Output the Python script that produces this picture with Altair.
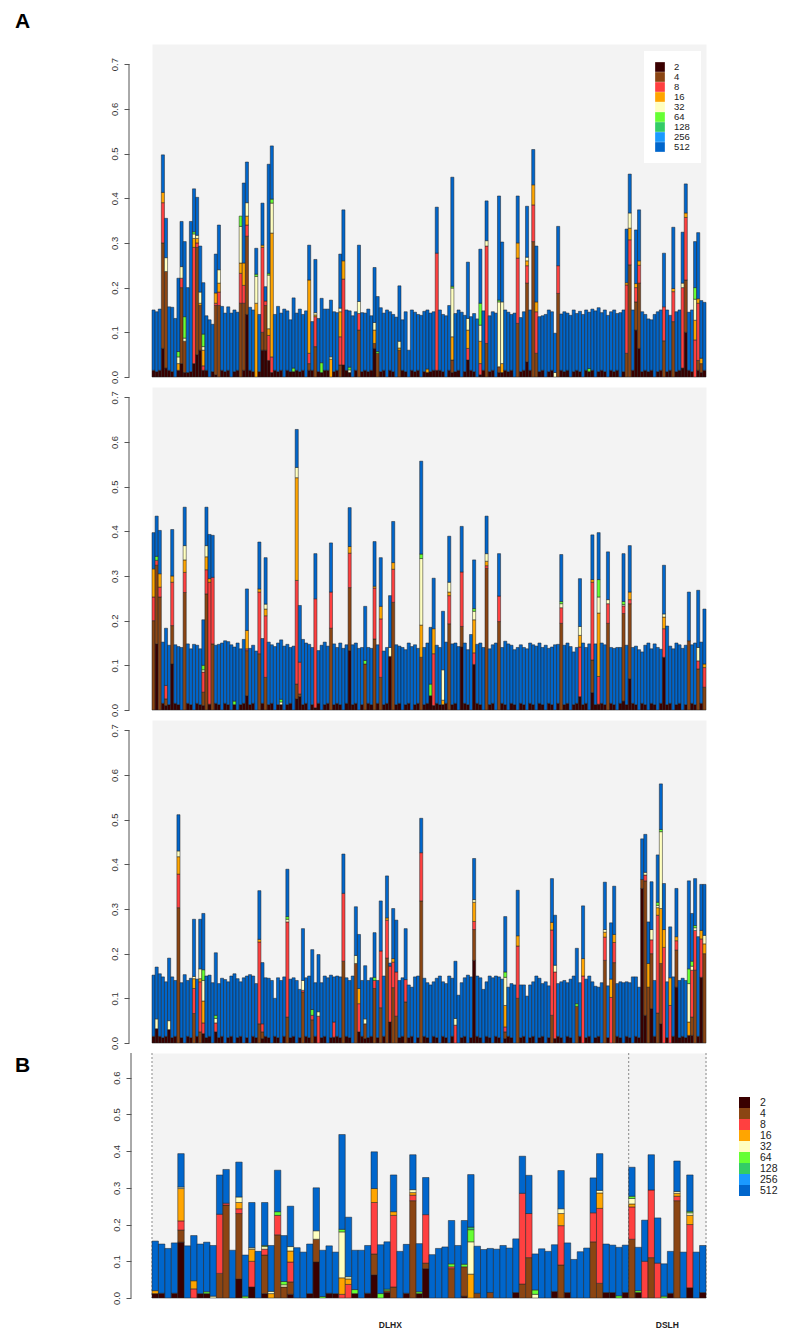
import altair as alt
import pandas as pd

CATS = ["2", "4", "8", "16", "32", "64", "128", "256", "512"]
COLORS = ["#3a0000", "#8b4513", "#ff4040", "#ffa500", "#ffffc0",
          "#66ff33", "#33cc66", "#1a9aff", "#0066cc"]

# ---------------- Panel A (top) ----------------
A1_TOTAL = [
    .150, .146, .152, .497, .355, .157, .156, .131, .221, .348,
    .303, .200, .348, .421, .402, .293, .211, .137, .128, .118,
    .275, .340, .158, .143, .157, .143, .150, .145, .360, .434,
    .481, .156, .150, .288, .140, .389, .202, .476, .517, .140,
    .158, .143, .152, .148, .128, .177, .143, .152, .140, .148,
    .295, .124, .263, .131, .176, .152, .152, .172, .146, .144,
    .275, .374, .150, .148, .137, .146, .295, .144, .143, .152,
    .137, .245, .180, .155, .143, .150, .146, .140, .134, .204,
    .128, .146, .060, .150, .145, .140, .138, .147, .150, .143,
    .146, .380, .150, .140, .137, .160, .447, .142, .150, .145,
    .138, .257, .135, .142, .130, .286, .148, .394, .137, .146,
    .143, .405, .302, .150, .145, .140, .143, .405, .133, .146,
    .382, .150, .509, .293, .135, .137, .140, .150, .146, .098,
    .337, .141, .146, .143, .138, .150, .142, .147, .140, .150,
    .145, .152, .148, .155, .144, .150, .138, .146, .150, .142,
    .144, .150, .331, .454, .150, .329, .374, .146, .140, .130,
    .128, .140, .146, .150, .277, .150, .138, .335, .146, .150,
    .324, .432, .145, .150, .303, .323, .171, .167,
]
A1_BASE = [
    15, 12, 15, 0, 0, 15, 12, 0, 0, 0, 0, 15, 12, 0, 0, 0, 0, 15, 0, 12,
    0, 0, 15, 12, 15, 0, 12, 15, 0, 0, 0, 15, 12, 0, 12, 0, 0, 0, 0, 15,
    12, 15, 0, 15, 12, 0, 15, 12, 15, 0, 0, 15, 0, 12, 0, 15, 15, 0, 12, 15,
    0, 0, 15, 12, 0, 15, 0, 12, 15, 12, 15, 0, 0, 12, 15, 0, 15, 12, 0, 0,
    15, 12, 0, 15, 12, 15, 0, 12, 15, 12, 15, 0, 15, 12, 0, 15, 0, 12, 15, 0,
    12, 0, 15, 12, 0, 0, 15, 0, 12, 15, 0, 0, 0, 15, 12, 15, 0, 0, 12, 15,
    0, 15, 0, 0, 12, 15, 0, 12, 15, 0, 0, 15, 12, 15, 0, 12, 15, 12, 0, 15,
    12, 15, 0, 12, 15, 12, 0, 15, 12, 15, 0, 12, 0, 0, 15, 0, 0, 12, 15, 12,
    15, 0, 12, 15, 0, 12, 15, 0, 12, 15, 0, 0, 15, 12, 0, 0, 12, 15,
]
# segments from the bottom: 2, 4, 8, 16, 32, 64, 128 (512 fills the rest)
A1_PARTS = {
    3: [.064, .236, .09, .023, 0, 0, 0], 4: [.02, .216, 0, 0, .031, 0, 0],
    8: [.015, 0, 0, .015, .015, .012, 0], 9: [.03, .17, .021, 0, .026, 0, 0],
    10: [.01, .07, 0, 0, .007, .048, 0], 11: [.01, 0, 0, 0, 0, 0, 0],
    12: [.012, 0, 0, 0, 0, 0, 0], 13: [.03, 0, .26, .02, .01, .005, 0],
    14: [.05, .24, .01, .01, .007, 0, 0], 15: [.06, .1, 0, .005, .025, 0, 0],
    16: [.015, 0, .01, .035, .008, .028, 0], 20: [.005, .155, .005, .023, 0, 0, 0],
    21: [0, .16, .03, .02, .03, 0, 0], 28: [0, .165, .067, .023, .082, .023, 0],
    29: [.015, .15, .04, .05, 0, 0, 0], 30: [.14, .175, .025, .02, .03, 0, 0],
    33: [0, 0, 0, .165, .06, .005, 0], 35: [.06, .04, .19, .005, 0, 0, 0],
    36: [.06, .1, .01, 0, 0, 0, 0], 37: [.037, 0, .056, .015, .12, .004, 0],
    38: [.01, 0, .035, .277, .067, .009, 0], 45: [.012, 0, 0, 0, 0, .008, 0],
    50: [.015, .015, .023, .164, 0, 0, 0], 52: [0, .068, .067, .004, .005, 0, 0],
    54: [.01, 0, 0, 0, 0, .022, 0], 57: [0, 0, 0, .04, .005, 0, 0],
    60: [0, .027, .063, .056, .008, 0, 0], 61: [.027, 0, .192, .041, 0, 0, 0],
    63: [.01, 0, 0, 0, .006, .006, 0], 66: [0, .105, .037, 0, .027, 0, 0],
    71: [.064, .011, 0, .03, .017, 0, 0], 72: [0, .053, 0, 0, 0, .004, 0],
    79: [0, .06, 0, .005, .015, 0, 0], 88: [.01, 0, 0, .008, 0, 0, 0],
    91: [.015, 0, .262, 0, 0, 0, 0], 96: [.01, .028, 0, .052, .109, .004, 0],
    101: [.038, 0, .026, .041, .026, 0, 0], 105: [.005, 0, .025, .05, .036, .049, 0],
    107: [0, .075, .218, 0, .012, 0, 0], 111: [.01, .013, 0, 0, .145, .004, 0],
    112: [.01, 0, 0, .02, .138, 0, 0], 117: [0, .12, .146, .034, 0, 0, 0],
    120: [.034, .176, .039, .011, .008, 0, 0], 122: [0, .303, .082, .045, 0, 0, 0],
    123: [0, .053, .093, .022, 0, 0, 0], 129: [0, 0, 0, 0, .01, 0, 0],
    130: [0, .187, .062, 0, 0, 0, 0], 140: [.012, 0, 0, 0, 0, .007, 0],
    152: [0, .053, .153, .005, 0, 0, 0], 153: [0, .251, .056, .026, .034, 0, 0],
    155: [.105, .063, .032, .009, 0, 0, 0], 156: [.064, .146, .04, .01, 0, 0, 0],
    164: [0, .081, .076, 0, 0, 0, 0], 167: [0, .124, .067, .007, 0, 0, 0],
    170: [.02, 0, .18, 0, .01, 0, 0], 171: [.1, .117, .14, .01, 0, 0, 0],
    174: [0, 0, .083, .044, .047, .026, 0], 175: [.015, .022, .128, .01, 0, 0, 0],
    176: [.01, .02, 0, .012, 0, 0, 0],
}

# ---------------- Panel A (middle) ----------------
A2_TOTAL = [
    .397, .434, .402, .152, .183, .145, .404, .146, .142, .140,
    .454, .148, .137, .147, .145, .137, .202, .454, .393, .391,
    .145, .147, .150, .155, .153, .146, .141, .150, .137, .158,
    .271, .138, .145, .132, .376, .160, .341, .152, .146, .142,
    .150, .157, .143, .147, .140, .143, .628, .234, .158, .150,
    .147, .140, .350, .133, .145, .152, .143, .374, .148, .140,
    .150, .138, .146, .453, .146, .150, .138, .140, .232, .140,
    .138, .377, .146, .341, .132, .140, .256, .422, .146, .143,
    .140, .135, .150, .142, .146, .138, .557, .140, .150, .185,
    .295, .145, .140, .221, .152, .389, .148, .150, .142, .411,
    .150, .135, .169, .336, .147, .150, .140, .434, .137, .146,
    .150, .350, .140, .154, .148, .145, .135, .140, .146, .140,
    .137, .150, .146, .143, .150, .140, .145, .138, .141, .146,
    .147, .348, .145, .150, .142, .130, .140, .294, .150, .140,
    .148, .392, .148, .397, .150, .146, .354, .140, .138, .140,
    .140, .350, .145, .368, .140, .143, .135, .130, .145, .150,
    .137, .148, .140, .136, .324, .188, .143, .137, .150, .146,
    .138, .145, .264, .146, .150, .268, .152, .226,
]
A2_BASE = [
    0, 0, 0, 15, 0, 12, 0, 15, 12, 0, 0, 15, 12, 0, 15, 12, 0, 0, 0, 0,
    15, 12, 0, 15, 12, 0, 15, 0, 12, 15, 0, 12, 15, 0, 0, 15, 0, 12, 15, 0,
    12, 15, 0, 12, 15, 0, 0, 0, 12, 15, 0, 12, 0, 15, 0, 12, 15, 0, 12, 15,
    12, 0, 15, 0, 12, 15, 0, 12, 0, 15, 12, 0, 15, 0, 12, 15, 0, 0, 12, 15,
    0, 12, 15, 0, 12, 15, 0, 12, 15, 0, 0, 15, 12, 0, 15, 0, 12, 15, 0, 0,
    15, 12, 0, 0, 15, 12, 0, 0, 12, 15, 0, 0, 15, 12, 0, 15, 12, 0, 15, 12,
    0, 15, 12, 0, 15, 12, 0, 15, 12, 0, 15, 0, 12, 15, 0, 12, 15, 0, 12, 15,
    0, 0, 12, 0, 15, 12, 0, 15, 12, 0, 15, 0, 12, 0, 15, 12, 0, 15, 12, 0,
    15, 12, 0, 15, 0, 12, 15, 0, 12, 15, 0, 12, 0, 15, 12, 0, 15, 0,
]
A2_PARTS = {
    0: [0, .2, .053, .063, 0, 0, 0], 1: [.148, .176, .011, 0, 0, .009, 0],
    2: [0, .253, .022, .03, 0, 0, 0], 4: [.01, .015, .03, 0, 0, 0, 0],
    6: [.103, .086, .097, .014, 0, 0, 0], 10: [0, .263, .045, .028, .032, 0, 0],
    16: [.01, .03, .045, 0, .005, .01, 0], 17: [0, .26, .054, .029, .025, 0, 0],
    18: [.013, 0, .273, .008, 0, 0, 0], 19: [0, .148, .149, 0, 0, 0, 0],
    26: [.012, 0, 0, 0, 0, .008, 0], 30: [.032, .101, .004, .041, 0, 0, 0],
    34: [0, .126, .138, .007, 0, 0, 0], 36: [0, .073, .138, .015, .011, 0, 0],
    41: [.012, 0, 0, 0, .006, .006, 0], 46: [.025, .033, .232, .23, .023, 0, 0],
    47: [.03, .006, .071, 0, 0, 0, 0], 52: [.005, 0, .244, 0, 0, 0, 0],
    57: [0, .183, .081, 0, 0, 0, 0], 63: [.133, .141, .077, .015, 0, 0, 0],
    68: [0, .103, 0, 0, 0, .008, 0], 71: [0, .159, .114, .004, 0, 0, 0],
    73: [0, .073, .131, .028, 0, 0, 0], 76: [.12, 0, 0, 0, .02, 0, 0],
    77: [0, .241, .074, .015, 0, 0, 0], 86: [0, .118, 0, .072, .149, .01, 0],
    89: [.032, 0, 0, 0, 0, .026, 0], 90: [.01, 0, .116, .056, 0, 0, 0],
    93: [.012, 0, 0, .01, .068, 0, 0], 95: [0, .193, .063, .008, .022, 0, 0],
    99: [.141, .046, .122, 0, 0, 0, 0], 103: [.102, 0, .026, .074, .019, .006, 0],
    107: [0, .317, .006, .01, .017, 0, 0], 111: [0, .198, .057, 0, 0, 0, 0],
    131: [0, .194, .035, 0, .009, .005, 0], 137: [.03, 0, .111, .026, .02, 0, 0],
    141: [.039, .073, .174, .006, 0, 0, 0], 143: [.013, 0, .062, .142, .036, .039, 0],
    146: [0, .194, .044, 0, .009, 0, 0], 151: [.02, .196, .017, 0, .003, .007, 0],
    153: [.07, .168, .009, .017, 0, 0, 0], 164: [.118, 0, .064, .026, .007, 0, 0],
    172: [0, .155, 0, 0, 0, 0, 0], 175: [0, .092, .018, 0, .03, 0, 0],
    177: [0, .051, .044, .008, 0, 0, 0],
}

# ---------------- Panel A (bottom) ----------------
A3_TOTAL = [
    .152, .170, .155, .148, .137, .190, .148, .140, .511, .135,
    .153, .140, .145, .277, .143, .277, .290, .150, .152, .135,
    .202, .133, .145, .142, .137, .150, .155, .144, .137, .146,
    .150, .153, .150, .133, .341, .180, .146, .145, .140, .100,
    .146, .140, .148, .389, .143, .146, .140, .120, .256, .146,
    .150, .209, .135, .198, .135, .150, .146, .152, .148, .150,
    .148, .423, .146, .140, .150, .305, .243, .140, .173, .140,
    .146, .247, .140, .318, .150, .374, .179, .301, .275, .140,
    .146, .256, .130, .125, .148, .150, .503, .145, .135, .130,
    .137, .145, .150, .137, .133, .150, .145, .183, .107, .135,
    .146, .152, .148, .413, .150, .146, .120, .137, .150, .146,
    .150, .148, .143, .283, .125, .133, .130, .342, .130, .130,
    .105, .130, .137, .150, .145, .133, .137, .128, .368, .286,
    .133, .137, .140, .135, .143, .150, .212, .135, .307, .143,
    .150, .137, .127, .125, .135, .360, .128, .269, .351, .133,
    .137, .135, .137, .135, .148, .148, .125, .457, .467, .271,
    .361, .140, .421, .580, .357, .137, .260, .148, .346, .140,
    .145, .140, .363, .290, .368, .238, .355, .355,
]
A3_BASE = [
    15, 0, 15, 12, 15, 0, 12, 15, 0, 12, 0, 15, 12, 0, 15, 0, 0, 12, 15, 0,
    0, 12, 15, 0, 12, 15, 0, 12, 15, 0, 12, 0, 15, 12, 0, 0, 15, 12, 0, 15,
    12, 0, 15, 0, 12, 15, 0, 12, 0, 15, 12, 0, 15, 0, 12, 15, 0, 12, 0, 15,
    12, 0, 15, 12, 0, 0, 0, 15, 0, 12, 15, 0, 12, 0, 15, 0, 0, 0, 0, 12,
    15, 0, 12, 15, 0, 12, 0, 15, 12, 0, 15, 12, 0, 15, 12, 0, 15, 0, 0, 12,
    15, 0, 12, 0, 15, 12, 0, 15, 12, 0, 15, 12, 0, 0, 15, 12, 0, 0, 12, 15,
    0, 12, 15, 0, 12, 15, 0, 12, 0, 0, 15, 12, 0, 15, 12, 0, 0, 15, 0, 12,
    15, 0, 12, 15, 0, 0, 12, 0, 0, 15, 12, 0, 15, 12, 0, 15, 12, 0, 0, 0,
    0, 15, 0, 0, 0, 12, 0, 15, 0, 12, 15, 12, 0, 0, 0, 15, 0, 0,
]
A3_PARTS = {
    1: [.032, 0, 0, 0, .022, 0, 0], 5: [.03, 0, 0, 0, .02, 0, 0],
    8: [0, .303, .075, .039, .013, 0, 0], 13: [0, .066, .056, .022, .005, 0, 0],
    15: [0, .025, .112, .007, .022, 0, 0], 16: [.021, 0, .024, .049, .046, .024, 0],
    20: [.025, 0, .02, 0, .01, .007, 0], 34: [0, .043, .183, .006, 0, 0, 0],
    35: [.01, .015, .018, 0, 0, 0, 0], 43: [0, .058, .213, 0, .006, .006, 0],
    48: [0, .114, .004, 0, .022, 0, 0], 51: [0, .052, .01, 0, 0, .013, 0],
    53: [0, 0, .06, 0, .01, 0, 0], 58: [.013, 0, .034, 0, 0, 0, 0],
    61: [0, .183, .152, 0, 0, 0, 0], 65: [0, .178, 0, 0, .018, 0, 0],
    66: [.025, 0, .063, .034, 0, 0, 0], 68: [.01, .033, 0, 0, .011, 0, 0],
    71: [0, .122, .018, 0, 0, .007, 0], 73: [0, .079, .127, 0, 0, 0, 0],
    75: [0, .19, .085, .005, 0, 0, 0], 76: [.047, 0, .125, 0, 0, 0, 0],
    77: [0, .124, .057, .008, 0, 0, 0], 78: [0, .06, .099, 0, 0, 0, 0],
    81: [0, .092, .05, 0, 0, 0, 0], 86: [0, .318, .108, 0, 0, 0, 0],
    97: [0, 0, .04, 0, .015, 0, 0], 103: [.185, .069, .018, .043, .006, 0, 0],
    113: [.01, .015, .011, .048, .063, .012, 0], 117: [0, .1, .117, .023, 0, 0, 0],
    128: [0, .062, .191, .017, 0, 0, 0], 129: [.01, 0, .149, 0, .015, 0, 0],
    136: [0, .082, 0, 0, 0, .006, 0], 138: [0, 0, .15, .039, 0, 0, 0],
    145: [0, .185, .052, .011, .006, 0, 0], 147: [0, 0, .102, .041, 0, 0, 0],
    148: [0, .18, .045, .018, 0, 0, 0], 157: [.346, .02, 0, 0, 0, 0, 0],
    158: [.062, .301, .013, 0, .006, 0, 0], 159: [0, .125, 0, .053, 0, 0, 0],
    160: [.077, .123, .031, 0, .023, 0, 0], 162: [0, .067, .219, .017, .005, .007, 0],
    163: [.043, .135, 0, .123, .172, .005, 0], 164: [0, 0, .214, .04, 0, 0, 0],
    166: [0, 0, .084, .062, 0, 0, 0], 168: [.125, .083, .021, .009, 0, 0, 0],
    172: [.017, 0, 0, .03, .086, .033, 0], 173: [.017, .041, .105, 0, .009, .011, 0],
    174: [0, .163, .089, 0, .006, .005, 0], 176: [.147, 0, .086, .019, 0, 0, 0],
    177: [0, .2, 0, .022, .019, 0, 0],
}

# ---------------- Panel B ----------------
B_TOTAL = [
    .155, .147, .135, .150, .393, .142, .170, .147, .152, .143,
    .335, .350, .130, .370, .117, .260, .127, .260, .143, .348,
    .170, .250, .137, .125, .147, .300, .130, .142, .125, .445,
    .220, .130, .130, .143, .398, .145, .153, .335, .127, .146,
    .390, .148, .328, .118, .135, .139, .211, .143, .211, .336,
    .141, .132, .135, .133, .143, .136, .161, .386, .334, .120,
    .134, .127, .145, .347, .150, .105, .126, .136, .327, .393,
    .147, .144, .138, .144, .356, .138, .212, .390, .218, .093,
    .127, .373, .125, .335, .125, .143,
]
B_BASE = [
    12, 13, 0, 13, 0, 0, 0, 12, 12, 0, 0, 0, 0, 0, 0, 0, 0, 0, 0, 0,
    0, 0, 0, 0, 12, 0, 0, 13, 12, 0, 0, 0, 0, 13, 0, 0, 0, 0, 0, 13,
    0, 0, 0, 0, 0, 0, 0, 0, 0, 0, 0, 0, 0, 0, 0, 0, 15, 0, 0, 0,
    0, 0, 18, 0, 15, 0, 0, 0, 0, 0, 15, 15, 0, 15, 0, 0, 0, 0, 0, 0,
    13, 0, 0, 0, 0, 15,
]
B_PARTS = {
    0: [.012, 0, 0, .008, 0, 0, 0], 4: [.152, .033, .025, .088, .004, 0, 0],
    6: [0, 0, .025, .022, 0, 0, 0], 8: [.012, 0, 0, 0, 0, .005, 0],
    9: [0, 0, 0, 0, .005, 0, 0], 10: [0, .067, .161, 0, 0, 0, 0],
    11: [0, .253, .005, 0, 0, 0, 0], 13: [.052, .178, .013, .017, .015, 0, 0],
    14: [0, 0, 0, 0, 0, .005, 0], 15: [.03, 0, .07, .033, .004, 0, 0],
    17: [.012, .105, .016, 0, .007, .003, 0], 18: [0, 0, 0, .012, .006, 0, 0],
    19: [0, .172, .053, 0, 0, .01, 0], 20: [0, .03, 0, 0, .006, .009, 0],
    21: [.01, .034, .054, .03, .012, 0, 0], 25: [.098, .062, 0, 0, .023, 0, 0],
    26: [0, 0, 0, 0, 0, .004, 0], 29: [0, 0, .01, .045, .125, .007, 0],
    30: [0, 0, .037, .015, .006, 0, 0], 31: [.012, 0, 0, 0, 0, .011, 0],
    34: [.063, .057, .14, .038, 0, 0, 0], 35: [0, 0, 0, 0, 0, .012, 0],
    36: [.015, .005, 0, 0, 0, .004, 0], 37: [0, .03, .195, .01, 0, 0, 0],
    40: [0, .265, .015, .007, .008, 0, 0], 41: [.012, 0, 0, 0, 0, .005, 0],
    42: [.08, .015, .132, 0, 0, 0, 0], 46: [0, .08, .005, 0, 0, .008, 0],
    48: [.005, .08, 0, 0, 0, .007, 0], 49: [0, 0, 0, .065, .088, .033, .007],
    50: [0, .013, 0, 0, 0, 0, 0], 52: [0, .015, 0, 0, 0, 0, 0],
    57: [0, .038, .247, 0, 0, 0, 0], 58: [0, .11, .12, 0, 0, 0, 0],
    59: [0, 0, 0, 0, .01, .012, 0], 63: [0, .09, .107, .033, .013, 0, 0],
    68: [0, .153, .079, 0, 0, 0, 0], 69: [0, .04, .204, .042, .007, 0, 0],
    72: [0, 0, 0, 0, 0, .006, 0], 74: [0, .16, .088, .008, .015, .006, 0],
    75: [.015, 0, 0, 0, 0, .005, 0], 76: [0, 0, .1, 0, 0, 0, 0],
    77: [0, .11, .184, 0, 0, 0, 0], 78: [0, 0, .095, 0, 0, 0, 0],
    79: [0, 0, 0, 0, 0, .005, 0], 81: [0, .265, .012, .008, .005, 0, 0],
    83: [.028, 0, .172, .025, .007, .004, 0],
}
B_GROUPS = ["DLHX", "DSLH"]
B_GROUP_START = [0, 74]
B_GROUP_MID = [37, 80]
B_LAST = 85

PLOT_W = 554


def make_rows(totals, base, parts):
    rows = []
    for i, tot in enumerate(totals):
        comp = list(parts.get(i, [base[i] / 1000.0, 0, 0, 0, 0, 0, 0]))
        vals = comp + [0.0, max(tot - sum(comp), 0.0)]
        for k, v in enumerate(vals):
            if v > 0:
                rows.append({"idx": i, "cat": CATS[k], "ord": k, "val": round(v, 4)})
    return pd.DataFrame(rows)


def panel(totals, base, parts, height, ymax, ticks, line_top, offset, letter,
          letter_y, legend, extra_below=None, extra_above=None):
    df = make_rows(totals, base, parts)
    yscale = alt.Scale(domain=[0, ymax], nice=False, zero=True)
    xscale = alt.Scale(paddingInner=0, paddingOuter=0)
    yaxis = alt.Axis(values=ticks, format=".1f", domain=False, grid=False,
                     offset=offset, tickSize=5, tickColor="#555555", tickWidth=1,
                     labelAngle=-90, labelAlign="center",
                     labelBaseline="bottom", labelFontSize=9.5,
                     labelColor="#333333", labelPadding=5)
    bars = alt.Chart(df).mark_bar(stroke="#1f1f1f", strokeWidth=0.5).encode(
        x=alt.X("idx:O", axis=None, scale=xscale),
        y=alt.Y("val:Q", stack="zero", scale=yscale, title=None, axis=yaxis),
        color=alt.Color("cat:N", scale=alt.Scale(domain=CATS, range=COLORS),
                        legend=legend),
        order=alt.Order("ord:Q", sort="ascending"),
    )
    # axis line from 0 up to the last tick (R style)
    axis_line = alt.Chart(pd.DataFrame({"k": [0]})).mark_rule(
        color="#555555", strokeWidth=1).encode(
        x=alt.value(-offset),
        y=alt.value(height),
        y2=alt.value(height * (1 - line_top / ymax)),
    )
    layers = []
    if extra_below is not None:
        layers += extra_below(xscale)
    layers += [bars, axis_line]
    if letter:
        layers.append(alt.Chart(pd.DataFrame({"t": [letter]})).mark_text(
            fontSize=21, fontWeight="bold", align="left", baseline="alphabetic",
            color="black").encode(x=alt.value(-137), y=alt.value(letter_y), text="t:N"))
    if extra_above is not None:
        layers += extra_above(xscale)
    return alt.layer(*layers).properties(width=PLOT_W, height=height)


legend_a = alt.Legend(orient="none", legendX=492, legendY=7, direction="vertical",
                      fillColor="white", padding=11, title=None,
                      symbolType="square", symbolSize=94, symbolStrokeWidth=0,
                      symbolOpacity=1, labelFontSize=9.5, labelOffset=9,
                      rowPadding=0, labelColor="#222222")
legend_b = alt.Legend(orient="none", legendX=587, legendY=44, direction="vertical",
                      padding=0, title=None,
                      symbolType="square", symbolSize=121, symbolStrokeWidth=0,
                      symbolOpacity=1, labelFontSize=10.5, labelOffset=10,
                      rowPadding=0, labelColor="#222222")


def b_below(xscale):
    starts = alt.Chart(pd.DataFrame({"idx": B_GROUP_START})).mark_rule(
        color="#888888", strokeWidth=1, strokeDash=[2, 2]).encode(
        x=alt.X("idx:O", bandPosition=0, scale=xscale, axis=None),
        y=alt.value(0), y2=alt.value(245))
    end = alt.Chart(pd.DataFrame({"idx": [B_LAST]})).mark_rule(
        color="#888888", strokeWidth=1, strokeDash=[2, 2]).encode(
        x=alt.X("idx:O", bandPosition=1, scale=xscale, axis=None),
        y=alt.value(0), y2=alt.value(245))
    return [starts, end]


def b_above(xscale):
    labs = alt.Chart(pd.DataFrame({"idx": B_GROUP_MID, "lab": B_GROUPS})).mark_text(
        fontSize=8.5, fontWeight="bold", color="#222222", baseline="middle").encode(
        x=alt.X("idx:O", bandPosition=0, scale=xscale, axis=None),
        y=alt.value(272), text="lab:N")
    return [labs]


ticks_a = [0.0, 0.1, 0.2, 0.3, 0.4, 0.5, 0.6, 0.7]
ticks_b = [0.0, 0.1, 0.2, 0.3, 0.4, 0.5, 0.6]

p1 = panel(A1_TOTAL, A1_BASE, A1_PARTS, 333, 0.745, ticks_a, 0.7, 23, "A", -16,
           legend_a)
p2 = panel(A2_TOTAL, A2_BASE, A2_PARTS, 323, 0.723, ticks_a, 0.7, 23, "", 0, None)
p3 = panel(A3_TOTAL, A3_BASE, A3_PARTS, 323, 0.723, ticks_a, 0.7, 23, "", 0, None)
p4 = panel(B_TOTAL, B_BASE, B_PARTS, 245, 0.667, ticks_b, 0.667, 21, "B", 19,
           legend_b, extra_below=b_below, extra_above=b_above)

chart = alt.vconcat(p1, p2, p3, p4, spacing=10, bounds="flush").resolve_scale(
    color="independent"
).properties(
    padding={"left": 6, "top": 2, "right": 0, "bottom": 0}
).configure(
    font="Liberation Sans"
).configure_view(
    fill="#f3f3f3", stroke="transparent"
)

chart.save("out.html", embed_options={"renderer": "svg", "actions": False})
